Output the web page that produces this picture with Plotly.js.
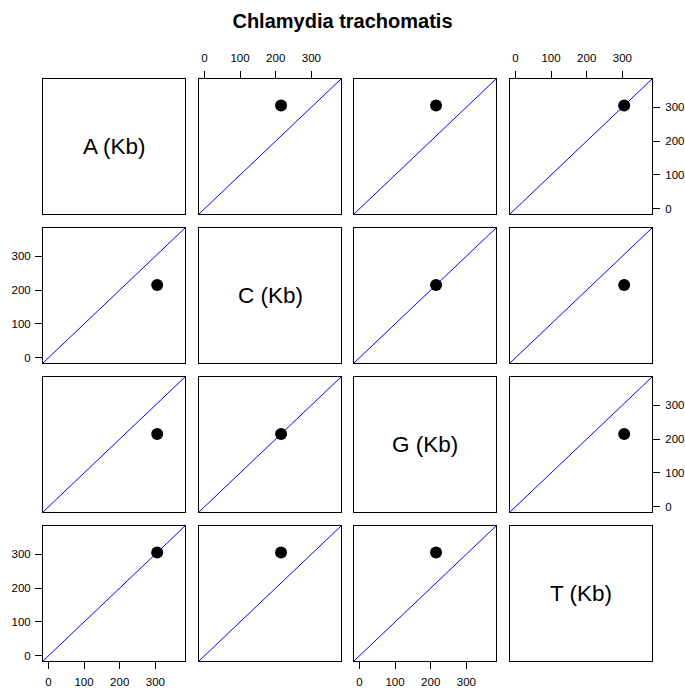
<!DOCTYPE html>
<html>
<head>
<meta charset="utf-8">
<script src="https://cdn.plot.ly/plotly-3.0.1.min.js"></script>
<style>html,body{margin:0;padding:0;background:#fff;}#chart{width:685px;height:688px;}</style>
</head>
<body>
<div id="chart"></div>
<script>
// ---- data ----
const variables = ['A (Kb)', 'C (Kb)', 'G (Kb)', 'T (Kb)'];
const kbValues = [305, 215, 215, 305];
const tickValues = [0, 100, 200, 300];
const tickLabels = ['0', '100', '200', '300'];
const axisRange = [-15, 383];
const chartTitle = 'Chlamydia trachomatis';

// ---- layout geometry ----
const W = 685, H = 688;
const colLeft = [43, 199, 354, 510];
const rowTop = [79, 228, 377, 526];
const pw = 142, ph = 135;
const FONT = 'Liberation Sans, Arial, sans-serif';

const traces = [];
const layout = {
  width: W, height: H,
  margin: {l: 0, r: 0, t: 0, b: 0},
  paper_bgcolor: '#fff', plot_bgcolor: '#fff',
  showlegend: false,
  font: {family: FONT, color: '#000', size: 11.5},
  title: {text: '<b>' + chartTitle + '</b>', x: 0.5, xanchor: 'center', y: 1 - 21 / H, yanchor: 'middle', font: {family: FONT, size: 20, color: '#000'}},
  annotations: []
};

for (let r = 0; r < 4; r++) {
  for (let c = 0; c < 4; c++) {
    const k = r * 4 + c + 1;
    const xs = k === 1 ? '' : String(k);
    const xd = [colLeft[c] / W, (colLeft[c] + pw) / W];
    const yd = [1 - (rowTop[r] + ph) / H, 1 - rowTop[r] / H];
    let xside = 'bottom', xshow = false;
    if (r === 0 && c % 2 === 1) { xside = 'top'; xshow = true; }
    if (r === 3 && c % 2 === 0) { xside = 'bottom'; xshow = true; }
    let yside = 'left', yshow = false;
    if (c === 0 && r % 2 === 1) { yside = 'left'; yshow = true; }
    if (c === 3 && r % 2 === 0) { yside = 'right'; yshow = true; }
    const base = {
      range: axisRange.slice(), showline: true, mirror: true, linecolor: '#000', linewidth: 1,
      showgrid: false, zeroline: false, fixedrange: true,
      tickmode: 'array', tickvals: tickValues, ticktext: tickLabels,
      ticklen: 7, tickwidth: 1, tickcolor: '#000',
      tickfont: {family: FONT, size: 11.5, color: '#000'}
    };
    layout['xaxis' + xs] = Object.assign({}, base, {
      domain: xd, anchor: 'y' + xs, side: xside,
      ticks: xshow ? 'outside' : '', showticklabels: xshow, ticklabelstandoff: xside === 'top' ? 4 : 3
    });
    layout['yaxis' + xs] = Object.assign({}, base, {
      domain: yd, anchor: 'x' + xs, side: yside,
      ticks: yshow ? 'outside' : '', showticklabels: yshow, ticklabelstandoff: yside === 'right' ? 3 : 2
    });
    if (r === c) {
      layout.annotations.push({
        text: variables[r], xref: 'x' + xs + ' domain', yref: 'y' + xs + ' domain',
        x: 0.5, y: 0.5, xanchor: 'center', yanchor: 'middle', showarrow: false,
        font: {family: FONT, size: 22.5, color: '#000'}
      });
      traces.push({x: [], y: [], xaxis: 'x' + xs, yaxis: 'y' + xs, type: 'scatter', mode: 'markers', hoverinfo: 'skip'});
    } else {
      traces.push({
        x: axisRange.slice(), y: axisRange.slice(), xaxis: 'x' + xs, yaxis: 'y' + xs,
        type: 'scatter', mode: 'lines', line: {color: '#0000ff', width: 1}, hoverinfo: 'skip', cliponaxis: true
      });
      traces.push({
        x: [kbValues[c]], y: [kbValues[r]], xaxis: 'x' + xs, yaxis: 'y' + xs,
        type: 'scatter', mode: 'markers', marker: {color: '#000', size: 12}, cliponaxis: false
      });
    }
  }
}

Plotly.newPlot('chart', traces, layout, {displayModeBar: false, staticPlot: true});
</script>
</body>
</html>
